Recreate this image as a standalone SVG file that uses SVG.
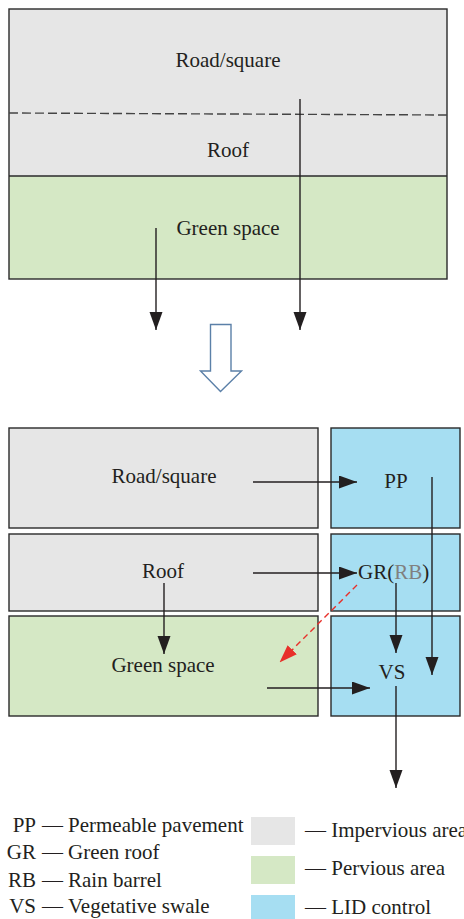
<svg xmlns="http://www.w3.org/2000/svg" width="464" height="919" viewBox="0 0 464 919">
<style>
.t{font-family:"Liberation Serif","Times New Roman",serif;font-size:21px;fill:#231f20}
.m{text-anchor:middle}
.e{text-anchor:end}
.box{stroke:#2a2a2a;stroke-width:1.4}
.imp{fill:#e6e6e6}
.per{fill:#d5e8c5}
.lid{fill:#a6def2}
.ln{stroke:#231f20;stroke-width:1.4;fill:none}
.red{stroke:#e8302a;stroke-width:1.4;fill:none;stroke-dasharray:6 4}
</style>
<defs>
<marker id="ah" markerUnits="userSpaceOnUse" markerWidth="18" markerHeight="14" refX="18" refY="6.5" orient="auto">
<path d="M0,0 L18,6.5 L0,13 Z" fill="#231f20"/>
</marker>
<marker id="ahr" markerUnits="userSpaceOnUse" markerWidth="18" markerHeight="14" refX="18" refY="6.5" orient="auto">
<path d="M0,0 L18,6.5 L0,13 Z" fill="#e8302a"/>
</marker>
</defs>

<g id="top-area">
<rect class="imp" x="9" y="9" width="438" height="167"/>
<rect class="per" x="9" y="176" width="438" height="103"/>
<rect x="9" y="9" width="438" height="270" fill="none" class="box"/>
<line x1="9" y1="176" x2="447" y2="176" class="box"/>
<line x1="9" y1="113" x2="447" y2="115" stroke="#444" stroke-width="1.4" stroke-dasharray="9 4"/>
<text class="t m" x="228" y="67">Road/square</text>
<text class="t m" x="228" y="157">Roof</text>
<text class="t m" x="228" y="235">Green space</text>
</g>

<g id="transition-arrow">
<path d="M210.5,324.5 H231 V371 H241.5 L220.5,391.5 L200.5,371 H210.5 Z" fill="#fff" stroke="#5b80a8" stroke-width="1.4"/>
</g>

<g id="road">
<rect class="imp box" x="9" y="428" width="309" height="100"/>
<text class="t m" x="164" y="483">Road/square</text>
</g>
<g id="pp">
<rect class="lid box" x="331" y="428" width="129" height="100"/>
<text class="t m" x="396" y="488">PP</text>
</g>
<g id="roof">
<rect class="imp box" x="9" y="534" width="309" height="77"/>
<text class="t m" x="163" y="578">Roof</text>
</g>
<g id="gr">
<rect class="lid box" x="331" y="534" width="129" height="77"/>
<text class="t" x="358" y="579">GR(<tspan fill="#808080">RB</tspan>)</text>
</g>
<g id="green">
<rect class="per box" x="9" y="616" width="309" height="100"/>
<text class="t m" x="163" y="672">Green space</text>
</g>
<g id="vs">
<rect class="lid box" x="331" y="616" width="129" height="100"/>
<text class="t m" x="392" y="679">VS</text>
</g>

<g id="connectors">
<line class="ln" x1="156" y1="228" x2="156" y2="330" marker-end="url(#ah)"/>
<line class="ln" x1="300" y1="99" x2="300" y2="330" marker-end="url(#ah)"/>
<line class="ln" x1="253" y1="482" x2="357" y2="482" marker-end="url(#ah)"/>
<line class="ln" x1="253" y1="573" x2="357" y2="573" marker-end="url(#ah)"/>
<line class="ln" x1="164" y1="583" x2="164" y2="654" marker-end="url(#ah)"/>
<line class="ln" x1="432" y1="477" x2="432" y2="675" marker-end="url(#ah)"/>
<line class="ln" x1="396" y1="583" x2="396" y2="653" marker-end="url(#ah)"/>
<line class="ln" x1="267" y1="688" x2="370" y2="688" marker-end="url(#ah)"/>
<line class="ln" x1="396" y1="686" x2="396" y2="788" marker-end="url(#ah)"/>
<line class="red" x1="357" y1="585" x2="279.5" y2="662.5" marker-end="url(#ahr)"/>
</g>

<g id="legend">
<text class="t e" x="36" y="832">PP</text>
<text class="t e" x="36" y="859">GR</text>
<text class="t e" x="36" y="887">RB</text>
<text class="t e" x="36" y="913">VS</text>
<text class="t" x="42" y="832">—</text>
<text class="t" x="42" y="859">—</text>
<text class="t" x="42" y="887">—</text>
<text class="t" x="42" y="913">—</text>
<text class="t" x="68" y="832">Permeable pavement</text>
<text class="t" x="68" y="859">Green roof</text>
<text class="t" x="68" y="887">Rain barrel</text>
<text class="t" x="68" y="913">Vegetative swale</text>
<rect class="imp" x="251" y="817" width="44" height="28"/>
<rect class="per" x="251" y="856" width="44" height="28"/>
<rect class="lid" x="251" y="895" width="44" height="28"/>
<text class="t" x="305" y="837">— Impervious area</text>
<text class="t" x="305" y="875">— Pervious area</text>
<text class="t" x="305" y="914">— LID control</text>
</g>
</svg>
